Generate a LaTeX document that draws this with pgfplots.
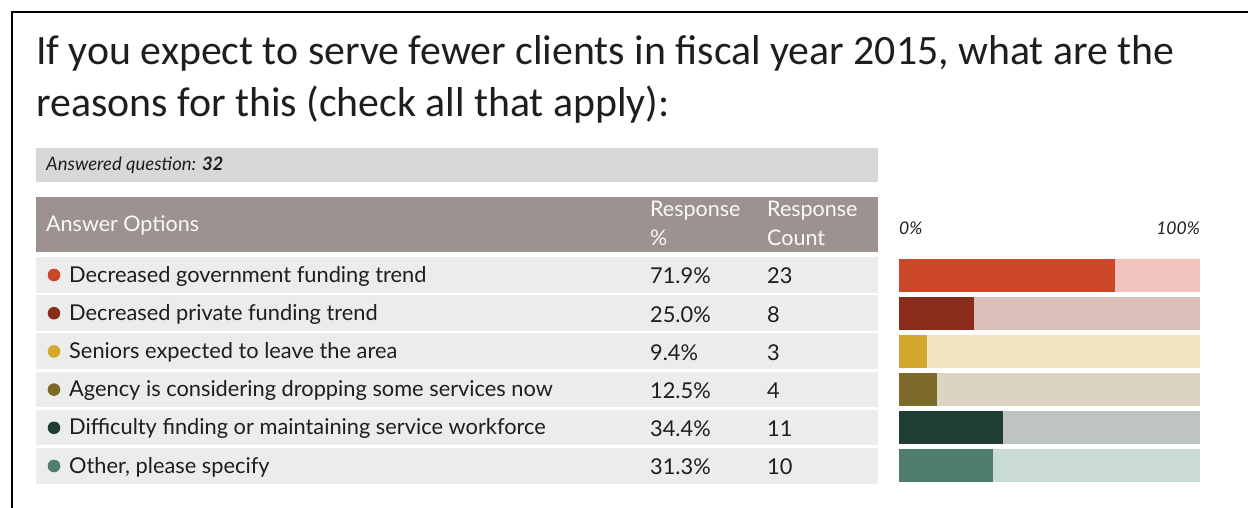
\documentclass[border=0pt]{standalone}
\usepackage{pgfplots}
\pgfplotsset{compat=1.18}
\usepackage{fontspec}
\setmainfont{Lato}
\newfontfamily\titlefont{Carlito}
\definecolor{dA}{HTML}{CC4628}\definecolor{lA}{HTML}{F0C4BC}
\definecolor{dB}{HTML}{8A2C1C}\definecolor{lB}{HTML}{DCBEB9}
\definecolor{dC}{HTML}{D2A92C}\definecolor{lC}{HTML}{F1E4C1}
\definecolor{dD}{HTML}{7C6A2A}\definecolor{lD}{HTML}{DBD4C1}
\definecolor{dE}{HTML}{1F3D31}\definecolor{lE}{HTML}{BEC4C2}
\definecolor{dF}{HTML}{4F7E6C}\definecolor{lF}{HTML}{C9DBD4}
\definecolor{hdr}{HTML}{9C9391}
\definecolor{rowbg}{HTML}{ECECEC}
\definecolor{ansbg}{HTML}{D8D8D8}
\definecolor{txt}{HTML}{1E1E1E}
\begin{document}
\begin{tikzpicture}[x=1pt,y=1pt]
\path[use as bounding box] (0,0) rectangle (1248,-508);
\draw[line width=2pt] (12,-509) -- (12,-12) -- (1249,-12);
% title
\node[anchor=base west, inner sep=0, font=\titlefont\fontsize{41.8}{50}\selectfont, text=txt] at (36,-65) {If you expect to serve fewer clients in fiscal year 2015, what are the};
\node[anchor=base west, inner sep=0, font=\titlefont\fontsize{41.8}{50}\selectfont, text=txt] at (36,-117) {reasons for this (check all that apply):};
% answered band
\fill[ansbg] (36,-148) rectangle (878,-182);
\node[anchor=west, inner sep=0, font=\itshape\fontsize{18.5}{20}\selectfont, text=txt] at (46,-165) {Answered question: \textbf{32}};
% header
\fill[hdr] (36,-197) rectangle (878,-252);
\node[anchor=west, inner sep=0, font=\fontsize{21.5}{24}\selectfont, text=white!94!hdr] at (46,-225) {Answer Options};
\node[anchor=west, inner sep=0, font=\fontsize{21.5}{24}\selectfont, text=white!94!hdr] at (650,-211) {Response};
\node[anchor=west, inner sep=0, font=\fontsize{21.5}{24}\selectfont, text=white!94!hdr] at (650,-238) {\%};
\node[anchor=west, inner sep=0, font=\fontsize{21.5}{24}\selectfont, text=white!94!hdr] at (767,-211) {Response};
\node[anchor=west, inner sep=0, font=\fontsize{21.5}{24}\selectfont, text=white!94!hdr] at (767,-238) {Count};
% axis end labels
\node[anchor=west, inner sep=0, font=\itshape\fontsize{17.5}{20}\selectfont, text=txt] at (899,-228) {0\%};
\node[anchor=east, inner sep=0, font=\itshape\fontsize{17.5}{20}\selectfont, text=txt] at (1200,-228) {100\%};
% rows
\foreach \i/\lab/\pc/\cnt/\col in {0/Decreased government funding trend/71.9\%/23/dA,
 1/Decreased private funding trend/25.0\%/8/dB,
 2/Seniors expected to leave the area/9.4\%/3/dC,
 3/Agency is considering dropping some services now/12.5\%/4/dD,
 4/Difficulty finding or maintaining service workforce/34.4\%/11/dE,
 5/{Other, please specify}/31.3\%/10/dF}{
  \pgfmathsetmacro\c{-(275+38.2*\i)}
  \fill[rowbg] (36,\c+18) rectangle (878,\c-17.5);
  \fill[\col] (54,\c) circle (6.3);
  \node[anchor=west, inner sep=0, font=\fontsize{21.8}{24}\selectfont, text=txt] at (69,\c-1) {\lab};
  \node[anchor=west, inner sep=0, font=\fontsize{21.8}{24}\selectfont, text=txt] at (650,\c-1) {\pc};
  \node[anchor=west, inner sep=0, font=\fontsize{21.8}{24}\selectfont, text=txt] at (767,\c-1) {\cnt};
}
\begin{axis}[at={(899pt,-255.9pt)}, anchor=north west, width=301pt, height=229.2pt,
  scale only axis, xmin=0, xmax=100, ymin=-0.5, ymax=5.5, y dir=reverse,
  hide axis, xbar, bar width=33pt, bar shift=0pt, clip=false]
\addplot[fill=lA, draw=none] coordinates {(100,0)};
\addplot[fill=dA, draw=none] coordinates {(71.9,0)};
\addplot[fill=lB, draw=none] coordinates {(100,1)};
\addplot[fill=dB, draw=none] coordinates {(25.0,1)};
\addplot[fill=lC, draw=none] coordinates {(100,2)};
\addplot[fill=dC, draw=none] coordinates {(9.4,2)};
\addplot[fill=lD, draw=none] coordinates {(100,3)};
\addplot[fill=dD, draw=none] coordinates {(12.5,3)};
\addplot[fill=lE, draw=none] coordinates {(100,4)};
\addplot[fill=dE, draw=none] coordinates {(34.4,4)};
\addplot[fill=lF, draw=none] coordinates {(100,5)};
\addplot[fill=dF, draw=none] coordinates {(31.3,5)};
\end{axis}
\end{tikzpicture}
\end{document}
